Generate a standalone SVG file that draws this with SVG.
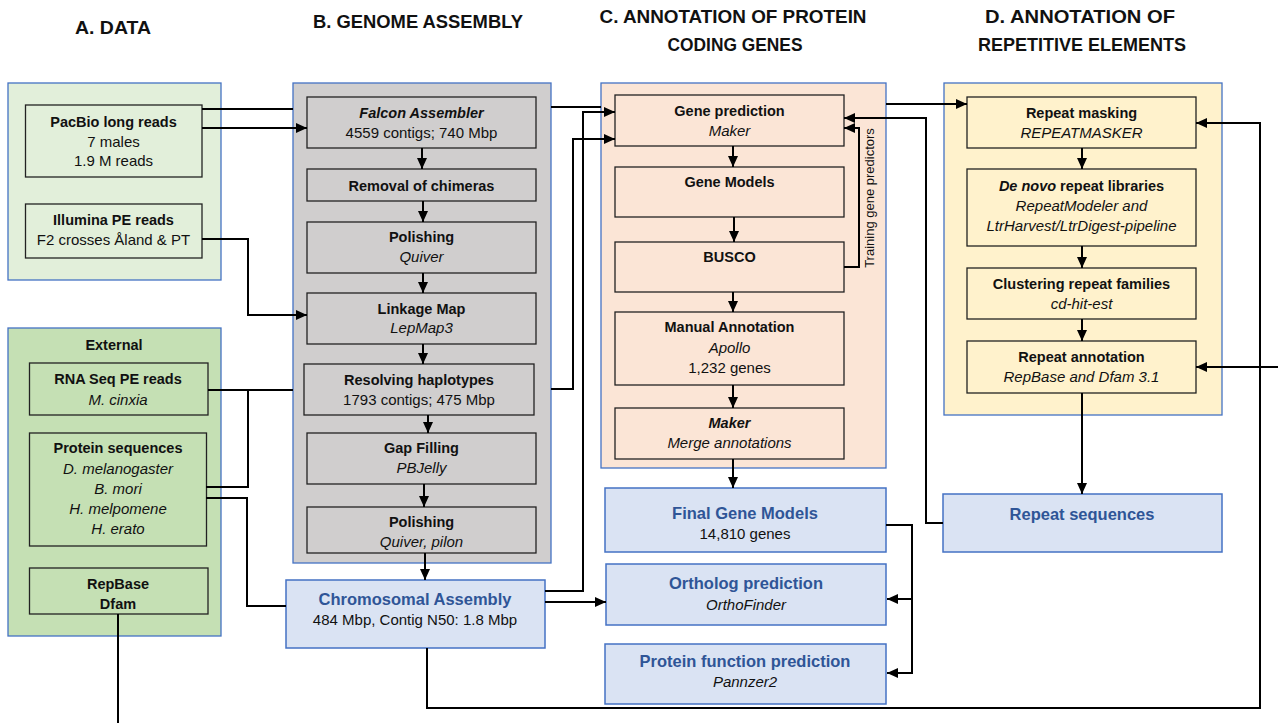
<svg xmlns="http://www.w3.org/2000/svg" width="1278" height="723" viewBox="0 0 1278 723">
<defs>
<marker id="arr" markerUnits="userSpaceOnUse" markerWidth="12" markerHeight="10" refX="11" refY="5" orient="auto">
<path d="M0,0 L11,5 L0,10 z" fill="#000"/>
</marker>
<style>
text{font-family:"Liberation Sans",Arial,sans-serif;text-anchor:middle;fill:#111}
.h{font-size:18px;font-weight:bold}
.b{font-size:14.5px;font-weight:bold}
.r{font-size:15px}
.i{font-size:15px;font-style:italic}
.bi{font-size:14.5px;font-weight:bold;font-style:italic}
.t{font-size:16.5px;font-weight:bold;fill:#2f5597}
.sec{stroke:#4472c4;stroke-width:1.3}
.box{fill:none;stroke:#222;stroke-width:1.3}
.blue{fill:#dae3f3;stroke:#4472c4;stroke-width:1.5}
.c path{fill:none;stroke:#000;stroke-width:2}
.a{marker-end:url(#arr)}
</style>
</defs>
<rect width="1278" height="723" fill="#fff"/>

<g id="headers">
<text class="h" x="113" y="34" textLength="76" lengthAdjust="spacingAndGlyphs">A. DATA</text>
<text class="h" x="418" y="28" textLength="210" lengthAdjust="spacingAndGlyphs">B. GENOME ASSEMBLY</text>
<text class="h" x="733" y="23" textLength="267" lengthAdjust="spacingAndGlyphs">C. ANNOTATION OF PROTEIN</text>
<text class="h" x="735" y="51" textLength="135" lengthAdjust="spacingAndGlyphs">CODING GENES</text>
<text class="h" x="1080" y="23" textLength="190" lengthAdjust="spacingAndGlyphs">D. ANNOTATION OF</text>
<text class="h" x="1082" y="51" textLength="208" lengthAdjust="spacingAndGlyphs">REPETITIVE ELEMENTS</text>
</g>

<g id="sectionA">
<rect class="sec" x="8" y="83" width="213" height="197" fill="#e2efda"/>
<rect class="sec" x="8" y="328" width="213" height="308" fill="#c5e0b4"/>
<text class="b" x="114" y="350">External</text>
</g>
<g id="pacbio"><rect class="box" x="25.5" y="105" width="176.5" height="72"/>
<text class="b" x="113.5" y="127">PacBio long reads</text><text class="r" x="113.5" y="147">7 males</text><text class="r" x="113.5" y="166">1.9 M reads</text></g>
<g id="illumina"><rect class="box" x="25.5" y="204" width="176.5" height="54"/>
<text class="b" x="113.5" y="225">Illumina PE reads</text><text class="r" x="113.5" y="245">F2 crosses Åland &amp; PT</text></g>
<g id="rnaseq"><rect class="box" x="29.5" y="363" width="178.5" height="52"/>
<text class="b" x="118" y="384">RNA Seq PE reads</text><text class="i" x="118" y="405">M. cinxia</text></g>
<g id="protseq"><rect class="box" x="29.5" y="433" width="177" height="113"/>
<text class="b" x="118" y="453">Protein sequences</text><text class="i" x="118" y="474">D. melanogaster</text><text class="i" x="118" y="494">B. mori</text><text class="i" x="118" y="514">H. melpomene</text><text class="i" x="118" y="534">H. erato</text></g>
<g id="repbase"><rect class="box" x="29.5" y="568" width="178.5" height="46"/>
<text class="b" x="118" y="589">RepBase</text><text class="b" x="118" y="609">Dfam</text></g>

<g id="sectionB"><rect class="sec" x="293" y="83" width="258" height="480" fill="#d0cece"/></g>
<g id="falcon"><rect class="box" x="307" y="97" width="229" height="51"/>
<text class="bi" x="421.5" y="118">Falcon Assembler</text><text class="r" x="421.5" y="138">4559 contigs; 740 Mbp</text></g>
<g id="chimeras"><rect class="box" x="307" y="169" width="229" height="32"/>
<text class="b" x="421.5" y="191">Removal of chimeras</text></g>
<g id="polish1"><rect class="box" x="307" y="222" width="229" height="51"/>
<text class="b" x="421.5" y="242">Polishing</text><text class="i" x="421.5" y="262">Quiver</text></g>
<g id="linkage"><rect class="box" x="307" y="293" width="229" height="51"/>
<text class="b" x="421.5" y="314">Linkage Map</text><text class="i" x="421.5" y="333">LepMap3</text></g>
<g id="haplo"><rect class="box" x="304" y="364" width="230" height="51"/>
<text class="b" x="419" y="385">Resolving haplotypes</text><text class="r" x="419" y="405">1793 contigs; 475 Mbp</text></g>
<g id="gapfill"><rect class="box" x="307" y="433" width="229" height="51"/>
<text class="b" x="421.5" y="453">Gap Filling</text><text class="i" x="421.5" y="473">PBJelly</text></g>
<g id="polish2"><rect class="box" x="307" y="507" width="229" height="46"/>
<text class="b" x="421.5" y="527">Polishing</text><text class="i" x="421.5" y="547">Quiver, pilon</text></g>
<g id="chromo"><rect class="blue" x="286" y="580" width="259" height="68"/>
<text class="t" x="415" y="605">Chromosomal Assembly</text><text class="r" x="415" y="625">484 Mbp, Contig N50: 1.8 Mbp</text></g>

<g id="sectionC"><rect class="sec" x="601" y="83" width="285" height="385" fill="#fbe5d6"/></g>
<g id="geneprediction"><rect class="box" x="615" y="95" width="229" height="51"/>
<text class="b" x="729.5" y="116">Gene prediction</text><text class="i" x="729.5" y="136">Maker</text></g>
<g id="genemodels"><rect class="box" x="615" y="167" width="229" height="50"/>
<text class="b" x="729.5" y="187">Gene Models</text></g>
<g id="busco"><rect class="box" x="615" y="242" width="229" height="50"/>
<text class="b" x="729.5" y="262">BUSCO</text></g>
<g id="manual"><rect class="box" x="615" y="312" width="229" height="73"/>
<text class="b" x="729.5" y="332">Manual Annotation</text><text class="i" x="729.5" y="353">Apollo</text><text class="r" x="729.5" y="373">1,232 genes</text></g>
<g id="maker"><rect class="box" x="615" y="408" width="229" height="51"/>
<text class="bi" x="729.5" y="428">Maker</text><text class="i" x="729.5" y="448">Merge annotations</text></g>
<g id="training"><text class="r" style="font-size:13px" transform="translate(874,198) rotate(-90)">Training gene predictors</text></g>
<g id="finalgenes"><rect class="blue" x="605" y="488" width="281" height="64"/>
<text class="t" x="745" y="519">Final Gene Models</text><text class="r" x="745" y="539">14,810 genes</text></g>
<g id="ortholog"><rect class="blue" x="606" y="564" width="280" height="61"/>
<text class="t" x="746" y="589">Ortholog prediction</text><text class="i" x="746" y="610">OrthoFinder</text></g>
<g id="protfunc"><rect class="blue" x="605" y="644" width="281" height="60"/>
<text class="t" x="745" y="667">Protein function prediction</text><text class="i" x="745" y="687">Pannzer2</text></g>

<g id="sectionD"><rect class="sec" x="944" y="83" width="278" height="332" fill="#fff2cc"/></g>
<g id="repmask"><rect class="box" x="967" y="97" width="229" height="51"/>
<text class="b" x="1081.5" y="118">Repeat masking</text><text class="i" x="1081.5" y="138">REPEATMASKER</text></g>
<g id="denovo"><rect class="box" x="967" y="169" width="229" height="77"/>
<text class="b" x="1081.5" y="191"><tspan font-style="italic">De novo</tspan> repeat libraries</text><text class="i" x="1081.5" y="211">RepeatModeler and</text><text class="i" x="1081.5" y="231">LtrHarvest/LtrDigest-pipeline</text></g>
<g id="cluster"><rect class="box" x="967" y="268" width="229" height="51"/>
<text class="b" x="1081.5" y="289">Clustering repeat families</text><text class="i" x="1081.5" y="309">cd-hit-est</text></g>
<g id="repannot"><rect class="box" x="967" y="341" width="229" height="52"/>
<text class="b" x="1081.5" y="362">Repeat annotation</text><text class="i" x="1081.5" y="382">RepBase and Dfam 3.1</text></g>
<g id="repseq"><rect class="blue" x="943" y="494" width="279" height="58"/>
<text class="t" x="1082" y="520">Repeat sequences</text></g>

<g id="connectors" class="c">
<path d="M202,109 H293"/>
<path d="M551,107 H601"/>
<path class="a" d="M886,104 H967"/>
<path class="a" d="M202,128 H307"/>
<path class="a" d="M202,239 H248 V315 H307"/>
<path d="M208,390 H293"/>
<path d="M248,390 V487 H206"/>
<path d="M206,498 H247 V606 H286"/>
<path class="a" d="M551,389 H573 V139 H615"/>
<path class="a" d="M545,591 H583 V112 H615"/>
<path class="a" d="M545,602 H606"/>
<path class="a" d="M427,648 V708 H1260 V123 H1196"/>
<path class="a" d="M943,523 H926 V118 H844"/>
<path class="a" d="M844,267 H859 V128 H844"/>
<path class="a" d="M886,525 H912 V673 H887"/>
<path class="a" d="M912,599 H887"/>
<path d="M118,614 V723"/>
<path class="a" d="M1278,367 H1196"/>
<path class="a" d="M422,148 V169"/>
<path class="a" d="M423,201 V222"/>
<path class="a" d="M423,273 V293"/>
<path class="a" d="M423,344 V364"/>
<path class="a" d="M428,415 V433"/>
<path class="a" d="M424,484 V507"/>
<path class="a" d="M425,553 V580"/>
<path class="a" d="M733,146 V167"/>
<path class="a" d="M734,217 V242"/>
<path class="a" d="M733,292 V312"/>
<path class="a" d="M733,385 V408"/>
<path class="a" d="M733,459 V488"/>
<path class="a" d="M1082,148 V169"/>
<path class="a" d="M1082,246 V268"/>
<path class="a" d="M1082,319 V341"/>
<path class="a" d="M1082,393 V494"/>
</g>
</svg>
